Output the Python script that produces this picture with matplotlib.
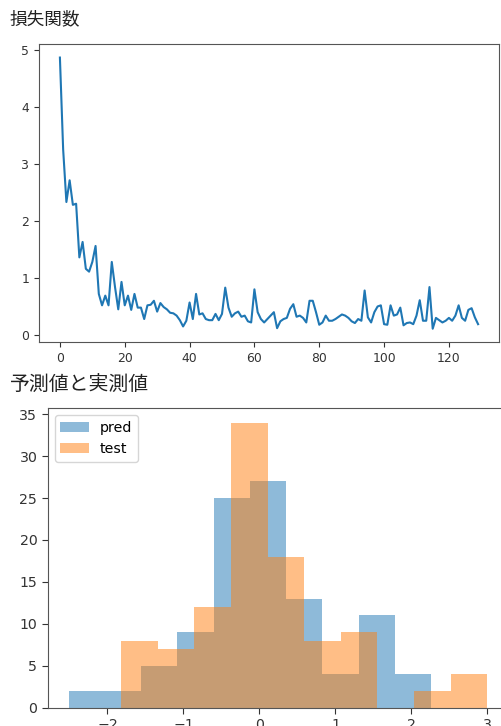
import numpy as np
import matplotlib
matplotlib.use("Agg")
import matplotlib.pyplot as plt

plt.rcParams['font.family'] = ['DejaVu Sans', 'Noto Sans CJK JP']

# ---- data ----
loss = [4.86, 3.25, 2.33, 2.71, 2.28, 2.30, 1.36, 1.63, 1.16, 1.11,
        1.28, 1.56, 0.72, 0.52, 0.69, 0.52, 1.28, 0.84, 0.45, 0.93,
        0.52, 0.69, 0.44, 0.72, 0.48, 0.48, 0.28, 0.52, 0.53, 0.60,
        0.41, 0.56, 0.49, 0.45, 0.39, 0.38, 0.34, 0.26, 0.15, 0.25,
        0.57, 0.28, 0.72, 0.36, 0.38, 0.28, 0.26, 0.26, 0.37, 0.26,
        0.37, 0.83, 0.48, 0.32, 0.38, 0.41, 0.32, 0.34, 0.24, 0.22,
        0.80, 0.40, 0.28, 0.22, 0.28, 0.34, 0.40, 0.12, 0.24, 0.28,
        0.30, 0.46, 0.54, 0.32, 0.34, 0.30, 0.22, 0.60, 0.60, 0.40,
        0.18, 0.22, 0.34, 0.25, 0.25, 0.28, 0.32, 0.36, 0.34, 0.30,
        0.24, 0.21, 0.28, 0.25, 0.78, 0.31, 0.22, 0.40, 0.50, 0.52,
        0.19, 0.18, 0.52, 0.34, 0.36, 0.48, 0.17, 0.21, 0.22, 0.19,
        0.34, 0.61, 0.25, 0.25, 0.84, 0.11, 0.30, 0.26, 0.22, 0.25,
        0.30, 0.25, 0.34, 0.52, 0.30, 0.25, 0.44, 0.47, 0.31, 0.19]
epochs = list(range(len(loss)))

pred_counts = [2, 2, 5, 9, 25, 27, 13, 4, 11, 4]
pred_range = (-2.51, 2.26)
test_counts = [8, 7, 12, 34, 18, 8, 9, 0, 2, 4]
test_range = (-1.82, 3.00)

title_top = "損失関数"
title_bottom = "予測値と実測値"

W, H = 502, 726
fig = plt.figure(figsize=(W / 100, H / 100), dpi=100)

# ---- top: loss curve ----
ax1 = fig.add_axes([39 / W, 1 - 342.3 / H, 460 / W, 298.3 / H])
ax1.plot(epochs, loss, color='#1f77b4', linewidth=1.5)
ax1.set_xticks([0, 20, 40, 60, 80, 100, 120])
ax1.set_yticks([0, 1, 2, 3, 4, 5])
ax1.tick_params(labelsize=8.9, colors='#333333', length=3.5)
for s in ax1.spines.values():
    s.set_color('#555555')

fig.text(10 / W, 1 - 10 / H, title_top, ha='left', va='top',
         fontsize=12.7, family=['Noto Sans CJK JP', 'DejaVu Sans'], color='#222222')

# ---- bottom: histograms ----
ax2 = fig.add_axes([47.7 / W, 1 - 707.7 / H, 460.6 / W, 299.4 / H])
pe = np.linspace(pred_range[0], pred_range[1], len(pred_counts) + 1)
te = np.linspace(test_range[0], test_range[1], len(test_counts) + 1)
ax2.hist(pe[:-1], bins=pe, weights=pred_counts, alpha=0.5, color='#1f77b4', label='pred')
ax2.hist(te[:-1], bins=te, weights=test_counts, alpha=0.5, color='#ff7f0e', label='test')
ax2.set_yticks([0, 5, 10, 15, 20, 25, 30, 35])
ax2.set_xticks([-2, -1, 0, 1, 2, 3])
ax2.tick_params(labelsize=10.2, colors='#333333', length=4)
for s in ax2.spines.values():
    s.set_color('#555555')
ax2.legend(loc='upper left', fontsize=10.2)

fig.text(10 / W, 1 - 375 / H, title_bottom, ha='left', va='top',
         fontsize=14.3, family=['Noto Sans CJK JP', 'DejaVu Sans'], color='#222222')

fig.savefig('out.png', dpi=100)
